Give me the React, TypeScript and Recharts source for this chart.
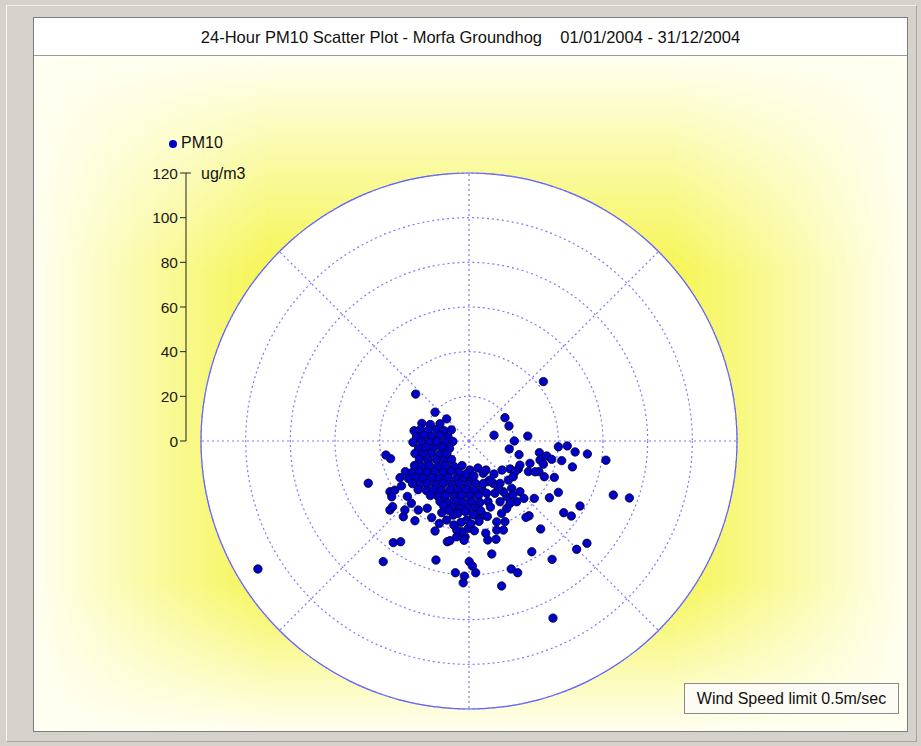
import React from "react";
import {
  Legend,
  Pie,
  PieChart,
  PolarAngleAxis,
  PolarGrid,
  PolarRadiusAxis,
  Radar,
  RadarChart,
  ReferenceLine,
  Scatter,
  ScatterChart,
  XAxis,
  YAxis,
} from "recharts";

// PM10 (ug/m3) plotted along wind direction: [east, north] components
const outliers: [number, number][] = [
  [33.3, 26.6], [-23.9, 21.0], [-94.5, -57.3], [37.6, -79.3], [71.8, -25.5], [64.6, -24.2], [61.3, -8.6],
];

const northPoints: [number, number][] = [
  [-15.2, 12.9], [-10.0, 9.9], [16.1, 10.4], [17.9, 6.7], [11.2, 2.6], [26.3, 2.2], [20.3, 0],
  [18.0, -3.6], [22.4, -6.1],
];

const eastArm: [number, number][] = [
  [40.0, -2.6], [44.0, -2.2], [47.5, -4.9], [53.0, -5.8], [31.5, -5.2], [34.8, -6.7], [37.0, -8.2],
  [31.8, -8.5], [41.5, -8.8], [33.3, -10.4], [46.3, -11.6], [26.6, -13.7], [22.1, -12.5], [18.4, -12.5],
  [31.3, -13.7], [38.2, -16.3], [33.7, -16.0], [40.0, -23.0], [36.0, -25.4], [29.2, -25.7], [49.7, -29.1],
  [42.4, -32.1], [45.8, -33.6], [26.9, -33.5], [25.5, -34.2], [32.1, -39.4], [52.8, -45.8], [48.2, -48.5],
  [28.1, -49.6], [37.2, -53.0], [27.3, -10.0], [22.8, -10.8], [20.6, -13.8], [29.6, -13.8], [22.8, -22.7],
  [16.9, -25.0], [21.4, -27.2], [19.1, -21.2], [15.4, -22.7], [13.1, -21.2], [10.9, -19.0], [8.6, -18.2],
  [6.4, -19.0], [24.6, -25.7], [19.6, -24.2], [16.9, -30.2], [14.6, -32.4], [12.4, -36.2], [6.4, -14.5],
  [9.4, -17.5], [13.9, -19.0], [17.6, -17.5], [19.8, -16.0], [11.6, -23.4], [7.9, -23.4], [18.4, -27.9],
  [13.9, -27.2], [0.4, -13.0], [4.0, -12.1], [7.6, -13.0], [11.2, -14.8], [14.8, -13.0], [-1.3, -14.8],
  [2.2, -15.7],
];

const southArm: [number, number][] = [
  [10.2, -50.6], [18.9, -57.3], [21.8, -59.0], [14.6, -64.9], [0.1, -54.0], [1.5, -56.0], [3.0, -59.0],
  [-6.1, -59.0], [-2.1, -60.5], [-2.6, -63.5], [-14.8, -53.3], [-9.7, -45.1], [-8.5, -44.6], [8.4, -44.3],
  [12.1, -44.0], [7.5, -41.3], [12.4, -39.9], [15.4, -39.9], [16.1, -36.1], [-15.2, -40.3], [-12.2, -32.1],
  [-10.0, -35.4], [-7.0, -33.2], [-5.5, -42.9], [-1.8, -42.9], [-3.3, -40.6], [6.4, -33.2], [2.7, -33.2],
  [-1.0, -35.4], [-0.3, -39.1], [-5.5, -39.9], [-13.3, -36.9], [-16.7, -34.3], [-18.7, -30.1],
  [-4.9, -32.4], [-1.6, -31.6], [1.8, -32.9], [5.2, -31.2], [8.2, -33.8], [-3.6, -36.4], [0.9, -37.1],
  [4.5, -36.0], [-6.8, -37.6], [2.4, -40.2], [-2.2, -44.5], [9.6, -29.6], [-9.2, -31.0], [-11.5, -28.8],
];

const westArm: [number, number][] = [
  [-38.4, -54.0], [-33.9, -45.5], [-30.6, -45.1], [-45.1, -18.9], [-37.2, -6.3], [-35.1, -7.9],
  [-24.2, -35.7], [-29.4, -33.9], [-28.7, -30.9], [-35.4, -30.9], [-34.2, -29.4], [-35.4, -22.7],
  [-33.2, -22.0], [-34.6, -25.0], [-22.7, -30.9], [-30.2, -20.1], [-27.6, -24.8], [-25.8, -27.9],
];

const clusterCore: [number, number][] = [
  [-21.1, 7.9], [-17.3, 7.4], [-13.0, 7.7],
  [-24.6, 4.6], [-21.8, 5.2], [-18.4, 4.7], [-14.6, 5.1], [-11.2, 4.6], [-7.9, 5.0],
  [-23.5, 2.0], [-20.2, 2.5], [-16.8, 2.0], [-13.1, 2.4], [-9.4, 1.9],
  [-25.1, -0.6], [-21.3, -0.2], [-17.9, -0.7], [-14.5, -0.3], [-10.8, -0.6], [-7.2, -0.2],
  [-22.6, -3.3], [-19.3, -2.9], [-15.9, -3.2], [-12.1, -2.8], [-8.7, -3.3],
  [-24.2, -5.6], [-20.8, -6.0], [-17.0, -5.6], [-13.2, -6.0], [-9.9, -5.7],
  [-22.2, -8.3], [-18.4, -8.7], [-14.6, -8.4], [-11.2, -8.8], [-7.8, -8.3],
  [-24.4, -11.0], [-21.1, -11.4], [-17.7, -11.0], [-13.9, -11.4], [-10.5, -11.0], [-6.7, -11.4], [-3.1, -11.0],
  [-28.5, -13.7], [-25.5, -14.1], [-22.2, -13.7], [-18.8, -14.1], [-15.4, -13.8], [-11.6, -14.1], [-8.1, -13.7],
  [-4.7, -14.0],
  [-30.9, -16.4], [-27.1, -16.8], [-23.7, -16.4], [-20.4, -16.8], [-16.6, -16.5], [-13.2, -16.8], [-9.4, -16.4],
  [-5.6, -16.8], [-2.2, -16.5], [1.3, -16.8],
  [-25.3, -19.1], [-22.0, -19.5], [-18.6, -19.1], [-14.8, -19.5], [-11.4, -19.1], [-7.6, -19.5], [-4.2, -19.2],
  [-0.4, -19.5], [3.1, -19.1],
  [-22.8, -21.8], [-19.1, -22.2], [-15.7, -21.8], [-12.3, -22.2], [-8.5, -21.9], [-4.9, -22.2], [-1.5, -21.8],
  [2.2, -22.2], [5.8, -21.9],
  [-17.3, -24.4], [-13.9, -24.8], [-10.5, -24.4], [-6.7, -24.8], [-3.3, -24.5], [0.4, -24.8], [4.2, -24.4],
  [-13.0, -27.1], [-9.6, -27.5], [-5.8, -27.1], [-2.4, -27.5], [1.3, -27.1], [4.9, -27.5], [8.5, -27.1],
  [-7.6, -29.8], [-4.2, -30.2], [-0.4, -29.8], [3.3, -30.2],
];

const directions = ["N", "NE", "E", "SE", "S", "SW", "W", "NW"];
const radiusTicks = [0, 20, 40, 60, 80, 100, 120];

const pm10Points = [...clusterCore, ...eastArm, ...southArm, ...westArm, ...northPoints, ...outliers].map(
  ([x, y]) => ({ x, y })
);
const gridData = directions.map((dir) => ({ dir, v: 0 }));
const diskData = [{ name: "disk", value: 1 }];

const W = 921;
const H = 746;
const CX = 469;
const CY = 441;
const R = 268;
const noMargin = { top: 0, right: 0, bottom: 0, left: 0 };
const font = "'Liberation Sans', Arial, sans-serif";

const Dot = (props: any) => (
  <circle cx={props.cx} cy={props.cy} r={4.2} fill="#0000c8" stroke="#00002a" strokeWidth={0.8} />
);

export default function App() {
  return (
    <div
      style={{
        position: "absolute",
        left: 0,
        top: 0,
        width: W,
        height: H,
        background: "#d5d2cb",
        fontFamily: font,
        overflow: "hidden",
      }}
    >
      <div
        style={{
          position: "absolute",
          left: 6,
          top: 5,
          width: 909,
          height: 735,
          borderLeft: "1px solid #f6f6f4",
          borderTop: "1px solid #eeeeea",
          borderRight: "1px solid #a8a6a0",
          borderBottom: "1px solid #a8a6a0",
        }}
      />
      <div
        style={{
          position: "absolute",
          left: 33,
          top: 17,
          width: 873,
          height: 713,
          border: "1px solid #7d7d7d",
          background: "#fffff4",
        }}
      />
      <div
        style={{
          position: "absolute",
          left: 34,
          top: 18,
          width: 873,
          height: 37,
          background: "#ffffff",
          borderBottom: "1px solid #9a9a9a",
          textAlign: "center",
          lineHeight: "38px",
          fontSize: 16.5,
          color: "#111",
          whiteSpace: "pre",
        }}
      >
        {"24-Hour PM10 Scatter Plot - Morfa Groundhog    01/01/2004 - 31/12/2004"}
      </div>
      <svg style={{ position: "absolute", left: 34, top: 56 }} width={873} height={675}>
        <defs>
          <linearGradient id="yh" x1="0" y1="0" x2="1" y2="0">
            <stop offset="0" stopColor="#f5f552" stopOpacity={0} />
            <stop offset="0.27" stopColor="#f5f552" stopOpacity={1} />
            <stop offset="0.73" stopColor="#f5f552" stopOpacity={1} />
            <stop offset="1" stopColor="#f5f552" stopOpacity={0} />
          </linearGradient>
          <linearGradient id="yv" x1="0" y1="0" x2="0" y2="1">
            <stop offset="0" stopColor="#000" />
            <stop offset="0.32" stopColor="#fff" />
            <stop offset="0.78" stopColor="#fff" />
            <stop offset="1" stopColor="#000" />
          </linearGradient>
          <mask id="ym">
            <rect width={873} height={675} fill="url(#yv)" />
          </mask>
        </defs>
        <rect width={873} height={675} fill="#fffff2" />
        <rect width={873} height={675} fill="url(#yh)" mask="url(#ym)" />
      </svg>

      <div style={{ position: "absolute", left: 0, top: 0 }}>
        <PieChart width={W} height={H} margin={noMargin}>
          <Pie
            data={diskData}
            dataKey="value"
            cx={CX}
            cy={CY}
            innerRadius={0}
            outerRadius={R}
            fill="#ffffff"
            stroke="none"
            isAnimationActive={false}
          />
          <Pie
            data={diskData}
            dataKey="value"
            cx={CX}
            cy={CY}
            innerRadius={R - 0.6}
            outerRadius={R + 0.6}
            fill="#5a5aff"
            stroke="none"
            isAnimationActive={false}
          />
        </PieChart>
      </div>

      <div style={{ position: "absolute", left: 0, top: 0 }}>
        <RadarChart width={W} height={H} data={gridData} cx={CX} cy={CY} outerRadius={R} margin={noMargin}>
          <PolarGrid gridType="circle" stroke="#7a7aff" strokeDasharray="2 3" strokeWidth={1.2} />
          <PolarAngleAxis dataKey="dir" tick={false} axisLine={false} />
          <PolarRadiusAxis type="number" domain={[0, 120]} ticks={radiusTicks} tick={false} axisLine={false} />
          <Radar dataKey="v" stroke="none" fill="none" dot={false} isAnimationActive={false} />
        </RadarChart>
      </div>

      <div style={{ position: "absolute", left: 0, top: 0 }}>
        <ScatterChart width={W} height={H} margin={{ top: 173, right: 169, bottom: 37, left: 146 }}>
          <XAxis type="number" dataKey="x" domain={[-126.7, 126.7]} ticks={[0]} hide allowDataOverflow />
          <YAxis
            type="number"
            dataKey="y"
            domain={[-120, 120]}
            ticks={radiusTicks}
            width={40}
            axisLine={false}
            tickLine={{ stroke: "#222" }}
            tick={{ fontSize: 15.5, fill: "#1a1a1a" }}
            allowDataOverflow
          />
          <ReferenceLine
            segment={[
              { x: -126.7, y: 0 },
              { x: -126.7, y: 120 },
            ]}
            stroke="#222"
            ifOverflow="visible"
          />
          <ReferenceLine
            segment={[
              { x: -126.7, y: 120 },
              { x: -124.5, y: 120 },
            ]}
            stroke="#222"
            ifOverflow="visible"
          />
          <Legend
            layout="horizontal"
            verticalAlign="middle"
            align="center"
            iconType="circle"
            iconSize={8}
            wrapperStyle={{ position: "absolute", left: 169, top: 134, width: "auto", fontSize: 16 }}
            formatter={(value: string) => <span style={{ color: "#111" }}>{value}</span>}
          />
          <Scatter
            name="PM10"
            data={pm10Points}
            fill="#0000c8"
            shape={Dot}
            isAnimationActive={false}
          />
        </ScatterChart>
      </div>

      <div
        style={{
          position: "absolute",
          left: 201,
          top: 165,
          fontSize: 16,
          lineHeight: "18px",
          color: "#111",
        }}
      >
        ug/m3
      </div>

      <div
        style={{
          position: "absolute",
          left: 684,
          top: 683,
          width: 213,
          height: 29,
          border: "1px solid #8a8a8a",
          background: "#fcfcf4",
          textAlign: "center",
          lineHeight: "29px",
          fontSize: 16,
          color: "#111",
        }}
      >
        Wind Speed limit 0.5m/sec
      </div>
    </div>
  );
}
